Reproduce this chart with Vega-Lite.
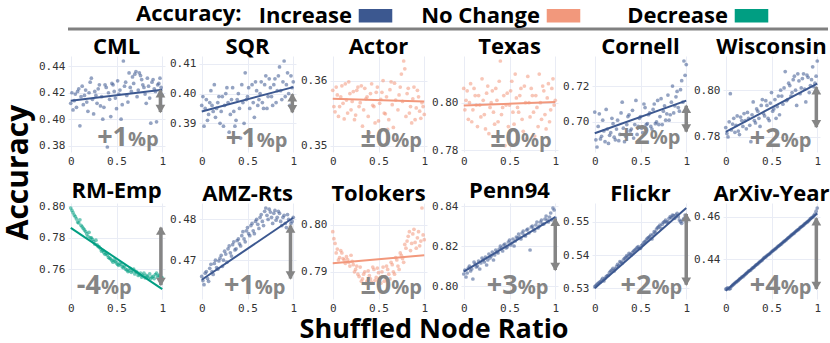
{
"$schema": "https://vega.github.io/schema/vega-lite/v6.json",
"background": "white",
"padding": {"left": 3, "top": 2, "right": 0, "bottom": 0},
"title": {"text": "Accuracy", "orient": "left", "anchor": "middle", "fontSize": 30, "font": "Open Sans", "fontWeight": "bold", "color": "black", "offset": 5},
"config": {
  "view": {"stroke": null},
  "font": "Open Sans",
  "axis": {"labelFont": "DejaVu Sans Mono", "labelFontSize": 11, "labelColor": "#333333", "ticks": false, "domain": false, "gridColor": "#e9ecf5", "gridWidth": 1, "title": null, "labelPadding": 3}
},
"bounds": "flush",
"spacing": 27,
"vconcat": [
  {
    "data": {"values": [{}]},
    "width": 760, "height": 1,
    "mark": {"type": "rule", "color": "#808080", "strokeWidth": 3},
    "encoding": {"y": {"datum": 0, "type": "quantitative", "scale": {"domain": [0, 1]}, "axis": null}}
  },
  {
    "data": {"values": [
{"p":"CML","x":0,"y":0.412},{"p":"CML","x":0.025,"y":0.407},{"p":"CML","x":0.05,"y":0.419},{"p":"CML","x":0.075,"y":0.421},{"p":"CML","x":0.1,"y":0.395},{"p":"CML","x":0.125,"y":0.425},{"p":"CML","x":0.15,"y":0.418},{"p":"CML","x":0.175,"y":0.413},{"p":"CML","x":0.2,"y":0.420},{"p":"CML","x":0.225,"y":0.431},{"p":"CML","x":0.25,"y":0.404},{"p":"CML","x":0.275,"y":0.418},{"p":"CML","x":0.3,"y":0.423},{"p":"CML","x":0.325,"y":0.410},{"p":"CML","x":0.35,"y":0.400},{"p":"CML","x":0.375,"y":0.426},{"p":"CML","x":0.4,"y":0.379},{"p":"CML","x":0.425,"y":0.415},{"p":"CML","x":0.45,"y":0.427},{"p":"CML","x":0.475,"y":0.421},{"p":"CML","x":0.5,"y":0.408},{"p":"CML","x":0.525,"y":0.419},{"p":"CML","x":0.55,"y":0.400},{"p":"CML","x":0.575,"y":0.444},{"p":"CML","x":0.6,"y":0.428},{"p":"CML","x":0.625,"y":0.413},{"p":"CML","x":0.65,"y":0.424},{"p":"CML","x":0.675,"y":0.432},{"p":"CML","x":0.7,"y":0.434},{"p":"CML","x":0.725,"y":0.417},{"p":"CML","x":0.75,"y":0.435},{"p":"CML","x":0.775,"y":0.430},{"p":"CML","x":0.8,"y":0.424},{"p":"CML","x":0.825,"y":0.412},{"p":"CML","x":0.85,"y":0.425},{"p":"CML","x":0.875,"y":0.397},{"p":"CML","x":0.9,"y":0.430},{"p":"CML","x":0.925,"y":0.421},{"p":"CML","x":0.95,"y":0.426},{"p":"CML","x":0.975,"y":0.431},{"p":"CML","x":1,"y":0.418},
{"p":"CML","x":0.0125,"y":0.420},{"p":"CML","x":0.0375,"y":0.414},{"p":"CML","x":0.0625,"y":0.409},{"p":"CML","x":0.0875,"y":0.423},{"p":"CML","x":0.1125,"y":0.417},{"p":"CML","x":0.1375,"y":0.411},{"p":"CML","x":0.1625,"y":0.422},{"p":"CML","x":0.1875,"y":0.406},{"p":"CML","x":0.2125,"y":0.428},{"p":"CML","x":0.2375,"y":0.415},{"p":"CML","x":0.2625,"y":0.421},{"p":"CML","x":0.2875,"y":0.412},{"p":"CML","x":0.3125,"y":0.426},{"p":"CML","x":0.3375,"y":0.417},{"p":"CML","x":0.3625,"y":0.409},{"p":"CML","x":0.3875,"y":0.424},{"p":"CML","x":0.4125,"y":0.420},{"p":"CML","x":0.4375,"y":0.402},{"p":"CML","x":0.4625,"y":0.426},{"p":"CML","x":0.4875,"y":0.416},{"p":"CML","x":0.5125,"y":0.429},{"p":"CML","x":0.5375,"y":0.422},{"p":"CML","x":0.5625,"y":0.411},{"p":"CML","x":0.5875,"y":0.425},{"p":"CML","x":0.6125,"y":0.418},{"p":"CML","x":0.6375,"y":0.435},{"p":"CML","x":0.6625,"y":0.421},{"p":"CML","x":0.6875,"y":0.427},{"p":"CML","x":0.7125,"y":0.436},{"p":"CML","x":0.7375,"y":0.422},{"p":"CML","x":0.7625,"y":0.433},{"p":"CML","x":0.7875,"y":0.426},{"p":"CML","x":0.8125,"y":0.419},{"p":"CML","x":0.8375,"y":0.431},{"p":"CML","x":0.8625,"y":0.416},{"p":"CML","x":0.8875,"y":0.428},{"p":"CML","x":0.9125,"y":0.423},{"p":"CML","x":0.9375,"y":0.398},{"p":"CML","x":0.9625,"y":0.427},{"p":"CML","x":0.9875,"y":0.424},
{"p":"SQR","x":0,"y":0.396},{"p":"SQR","x":0.025,"y":0.389},{"p":"SQR","x":0.05,"y":0.398},{"p":"SQR","x":0.075,"y":0.393},{"p":"SQR","x":0.1,"y":0.401},{"p":"SQR","x":0.125,"y":0.394},{"p":"SQR","x":0.15,"y":0.392},{"p":"SQR","x":0.175,"y":0.397},{"p":"SQR","x":0.2,"y":0.390},{"p":"SQR","x":0.225,"y":0.399},{"p":"SQR","x":0.25,"y":0.396},{"p":"SQR","x":0.275,"y":0.402},{"p":"SQR","x":0.3,"y":0.387},{"p":"SQR","x":0.325,"y":0.398},{"p":"SQR","x":0.35,"y":0.394},{"p":"SQR","x":0.375,"y":0.391},{"p":"SQR","x":0.4,"y":0.400},{"p":"SQR","x":0.425,"y":0.385},{"p":"SQR","x":0.45,"y":0.397},{"p":"SQR","x":0.475,"y":0.407},{"p":"SQR","x":0.5,"y":0.399},{"p":"SQR","x":0.525,"y":0.395},{"p":"SQR","x":0.55,"y":0.403},{"p":"SQR","x":0.575,"y":0.392},{"p":"SQR","x":0.6,"y":0.401},{"p":"SQR","x":0.625,"y":0.398},{"p":"SQR","x":0.65,"y":0.404},{"p":"SQR","x":0.675,"y":0.395},{"p":"SQR","x":0.7,"y":0.406},{"p":"SQR","x":0.725,"y":0.399},{"p":"SQR","x":0.75,"y":0.402},{"p":"SQR","x":0.775,"y":0.396},{"p":"SQR","x":0.8,"y":0.405},{"p":"SQR","x":0.825,"y":0.401},{"p":"SQR","x":0.85,"y":0.409},{"p":"SQR","x":0.875,"y":0.398},{"p":"SQR","x":0.9,"y":0.411},{"p":"SQR","x":0.925,"y":0.403},{"p":"SQR","x":0.95,"y":0.400},{"p":"SQR","x":0.975,"y":0.406},{"p":"SQR","x":1,"y":0.404},
{"p":"SQR","x":0.0125,"y":0.399},{"p":"SQR","x":0.0375,"y":0.395},{"p":"SQR","x":0.0625,"y":0.391},{"p":"SQR","x":0.0875,"y":0.397},{"p":"SQR","x":0.1125,"y":0.396},{"p":"SQR","x":0.1375,"y":0.403},{"p":"SQR","x":0.1625,"y":0.395},{"p":"SQR","x":0.1875,"y":0.399},{"p":"SQR","x":0.2125,"y":0.394},{"p":"SQR","x":0.2375,"y":0.389},{"p":"SQR","x":0.2625,"y":0.400},{"p":"SQR","x":0.2875,"y":0.397},{"p":"SQR","x":0.3125,"y":0.393},{"p":"SQR","x":0.3375,"y":0.402},{"p":"SQR","x":0.3625,"y":0.389},{"p":"SQR","x":0.3875,"y":0.398},{"p":"SQR","x":0.4125,"y":0.395},{"p":"SQR","x":0.4375,"y":0.403},{"p":"SQR","x":0.4625,"y":0.390},{"p":"SQR","x":0.4875,"y":0.398},{"p":"SQR","x":0.5125,"y":0.402},{"p":"SQR","x":0.5375,"y":0.383},{"p":"SQR","x":0.5625,"y":0.397},{"p":"SQR","x":0.5875,"y":0.404},{"p":"SQR","x":0.6125,"y":0.396},{"p":"SQR","x":0.6375,"y":0.400},{"p":"SQR","x":0.6625,"y":0.397},{"p":"SQR","x":0.6875,"y":0.403},{"p":"SQR","x":0.7125,"y":0.395},{"p":"SQR","x":0.7375,"y":0.405},{"p":"SQR","x":0.7625,"y":0.399},{"p":"SQR","x":0.7875,"y":0.403},{"p":"SQR","x":0.8125,"y":0.397},{"p":"SQR","x":0.8375,"y":0.406},{"p":"SQR","x":0.8625,"y":0.401},{"p":"SQR","x":0.8875,"y":0.404},{"p":"SQR","x":0.9125,"y":0.399},{"p":"SQR","x":0.9375,"y":0.407},{"p":"SQR","x":0.9625,"y":0.396},{"p":"SQR","x":0.9875,"y":0.402},
{"p":"Actor","x":0,"y":0.3585},{"p":"Actor","x":0.025,"y":0.3552},{"p":"Actor","x":0.05,"y":0.3578},{"p":"Actor","x":0.075,"y":0.3560},{"p":"Actor","x":0.1,"y":0.3592},{"p":"Actor","x":0.125,"y":0.3541},{"p":"Actor","x":0.15,"y":0.3570},{"p":"Actor","x":0.175,"y":0.3598},{"p":"Actor","x":0.2,"y":0.3555},{"p":"Actor","x":0.225,"y":0.3583},{"p":"Actor","x":0.25,"y":0.3547},{"p":"Actor","x":0.275,"y":0.3590},{"p":"Actor","x":0.3,"y":0.3566},{"p":"Actor","x":0.325,"y":0.3530},{"p":"Actor","x":0.35,"y":0.3588},{"p":"Actor","x":0.375,"y":0.3575},{"p":"Actor","x":0.4,"y":0.3520},{"p":"Actor","x":0.425,"y":0.3595},{"p":"Actor","x":0.45,"y":0.3560},{"p":"Actor","x":0.475,"y":0.3582},{"p":"Actor","x":0.5,"y":0.3538},{"p":"Actor","x":0.525,"y":0.3571},{"p":"Actor","x":0.55,"y":0.3600},{"p":"Actor","x":0.575,"y":0.3549},{"p":"Actor","x":0.6,"y":0.3525},{"p":"Actor","x":0.625,"y":0.3586},{"p":"Actor","x":0.65,"y":0.3563},{"p":"Actor","x":0.675,"y":0.3596},{"p":"Actor","x":0.7,"y":0.3510},{"p":"Actor","x":0.725,"y":0.3578},{"p":"Actor","x":0.75,"y":0.3610},{"p":"Actor","x":0.775,"y":0.3630},{"p":"Actor","x":0.8,"y":0.3545},{"p":"Actor","x":0.825,"y":0.3588},{"p":"Actor","x":0.85,"y":0.3560},{"p":"Actor","x":0.875,"y":0.3572},{"p":"Actor","x":0.9,"y":0.3540},{"p":"Actor","x":0.925,"y":0.3585},{"p":"Actor","x":0.95,"y":0.3553},{"p":"Actor","x":0.975,"y":0.3566},{"p":"Actor","x":1,"y":0.3548},
{"p":"Actor","x":0.0125,"y":0.3560},{"p":"Actor","x":0.0375,"y":0.3590},{"p":"Actor","x":0.0625,"y":0.3545},{"p":"Actor","x":0.0875,"y":0.3575},{"p":"Actor","x":0.1125,"y":0.3565},{"p":"Actor","x":0.1375,"y":0.3595},{"p":"Actor","x":0.1625,"y":0.3550},{"p":"Actor","x":0.1875,"y":0.3580},{"p":"Actor","x":0.2125,"y":0.3568},{"p":"Actor","x":0.2375,"y":0.3540},{"p":"Actor","x":0.2625,"y":0.3585},{"p":"Actor","x":0.2875,"y":0.3560},{"p":"Actor","x":0.3125,"y":0.3592},{"p":"Actor","x":0.3375,"y":0.3555},{"p":"Actor","x":0.3625,"y":0.3572},{"p":"Actor","x":0.3875,"y":0.3545},{"p":"Actor","x":0.4125,"y":0.3580},{"p":"Actor","x":0.4375,"y":0.3562},{"p":"Actor","x":0.4625,"y":0.3535},{"p":"Actor","x":0.4875,"y":0.3590},{"p":"Actor","x":0.5125,"y":0.3565},{"p":"Actor","x":0.5375,"y":0.3582},{"p":"Actor","x":0.5625,"y":0.3550},{"p":"Actor","x":0.5875,"y":0.3575},{"p":"Actor","x":0.6125,"y":0.3540},{"p":"Actor","x":0.6375,"y":0.3598},{"p":"Actor","x":0.6625,"y":0.3528},{"p":"Actor","x":0.6875,"y":0.3570},{"p":"Actor","x":0.7125,"y":0.3555},{"p":"Actor","x":0.7375,"y":0.3590},{"p":"Actor","x":0.7625,"y":0.3568},{"p":"Actor","x":0.7875,"y":0.3618},{"p":"Actor","x":0.8125,"y":0.3580},{"p":"Actor","x":0.8375,"y":0.3550},{"p":"Actor","x":0.8625,"y":0.3535},{"p":"Actor","x":0.8875,"y":0.3590},{"p":"Actor","x":0.9125,"y":0.3558},{"p":"Actor","x":0.9375,"y":0.3575},{"p":"Actor","x":0.9625,"y":0.3542},{"p":"Actor","x":0.9875,"y":0.3560},
{"p":"Texas","x":0,"y":0.806},{"p":"Texas","x":0.025,"y":0.801},{"p":"Texas","x":0.05,"y":0.793},{"p":"Texas","x":0.075,"y":0.808},{"p":"Texas","x":0.1,"y":0.797},{"p":"Texas","x":0.125,"y":0.803},{"p":"Texas","x":0.15,"y":0.790},{"p":"Texas","x":0.175,"y":0.799},{"p":"Texas","x":0.2,"y":0.810},{"p":"Texas","x":0.225,"y":0.795},{"p":"Texas","x":0.25,"y":0.804},{"p":"Texas","x":0.275,"y":0.787},{"p":"Texas","x":0.3,"y":0.800},{"p":"Texas","x":0.325,"y":0.796},{"p":"Texas","x":0.35,"y":0.806},{"p":"Texas","x":0.375,"y":0.792},{"p":"Texas","x":0.4,"y":0.8175},{"p":"Texas","x":0.425,"y":0.798},{"p":"Texas","x":0.45,"y":0.782},{"p":"Texas","x":0.475,"y":0.804},{"p":"Texas","x":0.5,"y":0.799},{"p":"Texas","x":0.525,"y":0.809},{"p":"Texas","x":0.55,"y":0.791},{"p":"Texas","x":0.575,"y":0.802},{"p":"Texas","x":0.6,"y":0.796},{"p":"Texas","x":0.625,"y":0.806},{"p":"Texas","x":0.65,"y":0.788},{"p":"Texas","x":0.675,"y":0.800},{"p":"Texas","x":0.7,"y":0.811},{"p":"Texas","x":0.725,"y":0.794},{"p":"Texas","x":0.75,"y":0.803},{"p":"Texas","x":0.775,"y":0.786},{"p":"Texas","x":0.8,"y":0.798},{"p":"Texas","x":0.825,"y":0.812},{"p":"Texas","x":0.85,"y":0.793},{"p":"Texas","x":0.875,"y":0.805},{"p":"Texas","x":0.9,"y":0.789},{"p":"Texas","x":0.925,"y":0.808},{"p":"Texas","x":0.95,"y":0.797},{"p":"Texas","x":0.975,"y":0.810},{"p":"Texas","x":1,"y":0.801},
{"p":"Texas","x":0.0125,"y":0.797},{"p":"Texas","x":0.0375,"y":0.805},{"p":"Texas","x":0.0625,"y":0.800},{"p":"Texas","x":0.0875,"y":0.792},{"p":"Texas","x":0.1125,"y":0.806},{"p":"Texas","x":0.1375,"y":0.799},{"p":"Texas","x":0.1625,"y":0.803},{"p":"Texas","x":0.1875,"y":0.794},{"p":"Texas","x":0.2125,"y":0.801},{"p":"Texas","x":0.2375,"y":0.789},{"p":"Texas","x":0.2625,"y":0.807},{"p":"Texas","x":0.2875,"y":0.798},{"p":"Texas","x":0.3125,"y":0.805},{"p":"Texas","x":0.3375,"y":0.791},{"p":"Texas","x":0.3625,"y":0.801},{"p":"Texas","x":0.3875,"y":0.809},{"p":"Texas","x":0.4125,"y":0.795},{"p":"Texas","x":0.4375,"y":0.803},{"p":"Texas","x":0.4625,"y":0.799},{"p":"Texas","x":0.4875,"y":0.790},{"p":"Texas","x":0.5125,"y":0.805},{"p":"Texas","x":0.5375,"y":0.796},{"p":"Texas","x":0.5625,"y":0.812},{"p":"Texas","x":0.5875,"y":0.798},{"p":"Texas","x":0.6125,"y":0.803},{"p":"Texas","x":0.6375,"y":0.793},{"p":"Texas","x":0.6625,"y":0.807},{"p":"Texas","x":0.6875,"y":0.785},{"p":"Texas","x":0.7125,"y":0.800},{"p":"Texas","x":0.7375,"y":0.806},{"p":"Texas","x":0.7625,"y":0.796},{"p":"Texas","x":0.7875,"y":0.803},{"p":"Texas","x":0.8125,"y":0.790},{"p":"Texas","x":0.8375,"y":0.800},{"p":"Texas","x":0.8625,"y":0.807},{"p":"Texas","x":0.8875,"y":0.795},{"p":"Texas","x":0.9125,"y":0.802},{"p":"Texas","x":0.9375,"y":0.792},{"p":"Texas","x":0.9625,"y":0.806},{"p":"Texas","x":0.9875,"y":0.799},
{"p":"Cornell","x":0,"y":0.7055},{"p":"Cornell","x":0.025,"y":0.6860},{"p":"Cornell","x":0.05,"y":0.7045},{"p":"Cornell","x":0.075,"y":0.6920},{"p":"Cornell","x":0.1,"y":0.6950},{"p":"Cornell","x":0.125,"y":0.7070},{"p":"Cornell","x":0.15,"y":0.6880},{"p":"Cornell","x":0.175,"y":0.6940},{"p":"Cornell","x":0.2,"y":0.6990},{"p":"Cornell","x":0.225,"y":0.6900},{"p":"Cornell","x":0.25,"y":0.7010},{"p":"Cornell","x":0.275,"y":0.6930},{"p":"Cornell","x":0.3,"y":0.7110},{"p":"Cornell","x":0.325,"y":0.6890},{"p":"Cornell","x":0.35,"y":0.6985},{"p":"Cornell","x":0.375,"y":0.7040},{"p":"Cornell","x":0.4,"y":0.6960},{"p":"Cornell","x":0.425,"y":0.6910},{"p":"Cornell","x":0.45,"y":0.7120},{"p":"Cornell","x":0.475,"y":0.6975},{"p":"Cornell","x":0.5,"y":0.7030},{"p":"Cornell","x":0.525,"y":0.6940},{"p":"Cornell","x":0.55,"y":0.7080},{"p":"Cornell","x":0.575,"y":0.6990},{"p":"Cornell","x":0.6,"y":0.7050},{"p":"Cornell","x":0.625,"y":0.6960},{"p":"Cornell","x":0.65,"y":0.7100},{"p":"Cornell","x":0.675,"y":0.7000},{"p":"Cornell","x":0.7,"y":0.6985},{"p":"Cornell","x":0.725,"y":0.7130},{"p":"Cornell","x":0.75,"y":0.7060},{"p":"Cornell","x":0.775,"y":0.7010},{"p":"Cornell","x":0.8,"y":0.7150},{"p":"Cornell","x":0.825,"y":0.7040},{"p":"Cornell","x":0.85,"y":0.7200},{"p":"Cornell","x":0.875,"y":0.7090},{"p":"Cornell","x":0.9,"y":0.7170},{"p":"Cornell","x":0.925,"y":0.7060},{"p":"Cornell","x":0.95,"y":0.7230},{"p":"Cornell","x":0.975,"y":0.7340},{"p":"Cornell","x":1,"y":0.7320},
{"p":"Cornell","x":0.0125,"y":0.6900},{"p":"Cornell","x":0.0375,"y":0.6975},{"p":"Cornell","x":0.0625,"y":0.6905},{"p":"Cornell","x":0.0875,"y":0.7010},{"p":"Cornell","x":0.1125,"y":0.6890},{"p":"Cornell","x":0.1375,"y":0.6960},{"p":"Cornell","x":0.1625,"y":0.6925},{"p":"Cornell","x":0.1875,"y":0.7020},{"p":"Cornell","x":0.2125,"y":0.6915},{"p":"Cornell","x":0.2375,"y":0.6960},{"p":"Cornell","x":0.2625,"y":0.6895},{"p":"Cornell","x":0.2875,"y":0.7050},{"p":"Cornell","x":0.3125,"y":0.6965},{"p":"Cornell","x":0.3375,"y":0.6920},{"p":"Cornell","x":0.3625,"y":0.7030},{"p":"Cornell","x":0.3875,"y":0.6950},{"p":"Cornell","x":0.4125,"y":0.7065},{"p":"Cornell","x":0.4375,"y":0.6985},{"p":"Cornell","x":0.4625,"y":0.6930},{"p":"Cornell","x":0.4875,"y":0.7020},{"p":"Cornell","x":0.5125,"y":0.6965},{"p":"Cornell","x":0.5375,"y":0.7100},{"p":"Cornell","x":0.5625,"y":0.6985},{"p":"Cornell","x":0.5875,"y":0.7040},{"p":"Cornell","x":0.6125,"y":0.6975},{"p":"Cornell","x":0.6375,"y":0.7070},{"p":"Cornell","x":0.6625,"y":0.6990},{"p":"Cornell","x":0.6875,"y":0.7120},{"p":"Cornell","x":0.7125,"y":0.7030},{"p":"Cornell","x":0.7375,"y":0.6985},{"p":"Cornell","x":0.7625,"y":0.7090},{"p":"Cornell","x":0.7875,"y":0.7045},{"p":"Cornell","x":0.8125,"y":0.7010},{"p":"Cornell","x":0.8375,"y":0.7110},{"p":"Cornell","x":0.8625,"y":0.7050},{"p":"Cornell","x":0.8875,"y":0.7140},{"p":"Cornell","x":0.9125,"y":0.7080},{"p":"Cornell","x":0.9375,"y":0.7180},{"p":"Cornell","x":0.9625,"y":0.7110},{"p":"Cornell","x":0.9875,"y":0.7260},
{"p":"Wisconsin","x":0,"y":0.7840},{"p":"Wisconsin","x":0.025,"y":0.7800},{"p":"Wisconsin","x":0.05,"y":0.7985},{"p":"Wisconsin","x":0.075,"y":0.7855},{"p":"Wisconsin","x":0.1,"y":0.7820},{"p":"Wisconsin","x":0.125,"y":0.7890},{"p":"Wisconsin","x":0.15,"y":0.7810},{"p":"Wisconsin","x":0.175,"y":0.7870},{"p":"Wisconsin","x":0.2,"y":0.7900},{"p":"Wisconsin","x":0.225,"y":0.7835},{"p":"Wisconsin","x":0.25,"y":0.7880},{"p":"Wisconsin","x":0.275,"y":0.7780},{"p":"Wisconsin","x":0.3,"y":0.7950},{"p":"Wisconsin","x":0.325,"y":0.7860},{"p":"Wisconsin","x":0.35,"y":0.7910},{"p":"Wisconsin","x":0.375,"y":0.7845},{"p":"Wisconsin","x":0.4,"y":0.7960},{"p":"Wisconsin","x":0.425,"y":0.7890},{"p":"Wisconsin","x":0.45,"y":0.7935},{"p":"Wisconsin","x":0.475,"y":0.7870},{"p":"Wisconsin","x":0.5,"y":0.7990},{"p":"Wisconsin","x":0.525,"y":0.7920},{"p":"Wisconsin","x":0.55,"y":0.7880},{"p":"Wisconsin","x":0.575,"y":0.7975},{"p":"Wisconsin","x":0.6,"y":0.8000},{"p":"Wisconsin","x":0.625,"y":0.7940},{"p":"Wisconsin","x":0.65,"y":0.8080},{"p":"Wisconsin","x":0.675,"y":0.7960},{"p":"Wisconsin","x":0.7,"y":0.8020},{"p":"Wisconsin","x":0.725,"y":0.7990},{"p":"Wisconsin","x":0.75,"y":0.8060},{"p":"Wisconsin","x":0.775,"y":0.7935},{"p":"Wisconsin","x":0.8,"y":0.8040},{"p":"Wisconsin","x":0.825,"y":0.8010},{"p":"Wisconsin","x":0.85,"y":0.8070},{"p":"Wisconsin","x":0.875,"y":0.7950},{"p":"Wisconsin","x":0.9,"y":0.8055},{"p":"Wisconsin","x":0.925,"y":0.8020},{"p":"Wisconsin","x":0.95,"y":0.8100},{"p":"Wisconsin","x":0.975,"y":0.8030},{"p":"Wisconsin","x":1,"y":0.8125},
{"p":"Wisconsin","x":0.0125,"y":0.7815},{"p":"Wisconsin","x":0.0375,"y":0.7865},{"p":"Wisconsin","x":0.0625,"y":0.7830},{"p":"Wisconsin","x":0.0875,"y":0.7880},{"p":"Wisconsin","x":0.1125,"y":0.7850},{"p":"Wisconsin","x":0.1375,"y":0.7825},{"p":"Wisconsin","x":0.1625,"y":0.7885},{"p":"Wisconsin","x":0.1875,"y":0.7845},{"p":"Wisconsin","x":0.2125,"y":0.7870},{"p":"Wisconsin","x":0.2375,"y":0.7905},{"p":"Wisconsin","x":0.2625,"y":0.7850},{"p":"Wisconsin","x":0.2875,"y":0.7895},{"p":"Wisconsin","x":0.3125,"y":0.7870},{"p":"Wisconsin","x":0.3375,"y":0.7920},{"p":"Wisconsin","x":0.3625,"y":0.7880},{"p":"Wisconsin","x":0.3875,"y":0.7935},{"p":"Wisconsin","x":0.4125,"y":0.7900},{"p":"Wisconsin","x":0.4375,"y":0.7955},{"p":"Wisconsin","x":0.4625,"y":0.7880},{"p":"Wisconsin","x":0.4875,"y":0.7945},{"p":"Wisconsin","x":0.5125,"y":0.7910},{"p":"Wisconsin","x":0.5375,"y":0.7960},{"p":"Wisconsin","x":0.5625,"y":0.7930},{"p":"Wisconsin","x":0.5875,"y":0.7895},{"p":"Wisconsin","x":0.6125,"y":0.7975},{"p":"Wisconsin","x":0.6375,"y":0.8010},{"p":"Wisconsin","x":0.6625,"y":0.7955},{"p":"Wisconsin","x":0.6875,"y":0.8030},{"p":"Wisconsin","x":0.7125,"y":0.7975},{"p":"Wisconsin","x":0.7375,"y":0.8045},{"p":"Wisconsin","x":0.7625,"y":0.8000},{"p":"Wisconsin","x":0.7875,"y":0.8070},{"p":"Wisconsin","x":0.8125,"y":0.7985},{"p":"Wisconsin","x":0.8375,"y":0.8050},{"p":"Wisconsin","x":0.8625,"y":0.8005},{"p":"Wisconsin","x":0.8875,"y":0.8065},{"p":"Wisconsin","x":0.9125,"y":0.7990},{"p":"Wisconsin","x":0.9375,"y":0.8045},{"p":"Wisconsin","x":0.9625,"y":0.8015},{"p":"Wisconsin","x":0.9875,"y":0.8060},
{"p":"RM-Emp","x":0,"y":0.7990},{"p":"RM-Emp","x":0.025,"y":0.7960},{"p":"RM-Emp","x":0.05,"y":0.7935},{"p":"RM-Emp","x":0.075,"y":0.7900},{"p":"RM-Emp","x":0.1,"y":0.7915},{"p":"RM-Emp","x":0.125,"y":0.7870},{"p":"RM-Emp","x":0.15,"y":0.7850},{"p":"RM-Emp","x":0.175,"y":0.7825},{"p":"RM-Emp","x":0.2,"y":0.7835},{"p":"RM-Emp","x":0.225,"y":0.7800},{"p":"RM-Emp","x":0.25,"y":0.7775},{"p":"RM-Emp","x":0.275,"y":0.7785},{"p":"RM-Emp","x":0.3,"y":0.7745},{"p":"RM-Emp","x":0.325,"y":0.7730},{"p":"RM-Emp","x":0.35,"y":0.7720},{"p":"RM-Emp","x":0.375,"y":0.7695},{"p":"RM-Emp","x":0.4,"y":0.7690},{"p":"RM-Emp","x":0.425,"y":0.7670},{"p":"RM-Emp","x":0.45,"y":0.7655},{"p":"RM-Emp","x":0.475,"y":0.7660},{"p":"RM-Emp","x":0.5,"y":0.7640},{"p":"RM-Emp","x":0.525,"y":0.7625},{"p":"RM-Emp","x":0.55,"y":0.7630},{"p":"RM-Emp","x":0.575,"y":0.7610},{"p":"RM-Emp","x":0.6,"y":0.7600},{"p":"RM-Emp","x":0.625,"y":0.7585},{"p":"RM-Emp","x":0.65,"y":0.7605},{"p":"RM-Emp","x":0.675,"y":0.7590},{"p":"RM-Emp","x":0.7,"y":0.7570},{"p":"RM-Emp","x":0.725,"y":0.7580},{"p":"RM-Emp","x":0.75,"y":0.7565},{"p":"RM-Emp","x":0.775,"y":0.7550},{"p":"RM-Emp","x":0.8,"y":0.7575},{"p":"RM-Emp","x":0.825,"y":0.7560},{"p":"RM-Emp","x":0.85,"y":0.7545},{"p":"RM-Emp","x":0.875,"y":0.7540},{"p":"RM-Emp","x":0.9,"y":0.7555},{"p":"RM-Emp","x":0.925,"y":0.7565},{"p":"RM-Emp","x":0.95,"y":0.7550},{"p":"RM-Emp","x":0.975,"y":0.7560},{"p":"RM-Emp","x":1,"y":0.7545},
{"p":"RM-Emp","x":0.0125,"y":0.7975},{"p":"RM-Emp","x":0.0375,"y":0.7945},{"p":"RM-Emp","x":0.0625,"y":0.7920},{"p":"RM-Emp","x":0.0875,"y":0.7895},{"p":"RM-Emp","x":0.1125,"y":0.7880},{"p":"RM-Emp","x":0.1375,"y":0.7860},{"p":"RM-Emp","x":0.1625,"y":0.7840},{"p":"RM-Emp","x":0.1875,"y":0.7810},{"p":"RM-Emp","x":0.2125,"y":0.7800},{"p":"RM-Emp","x":0.2375,"y":0.7790},{"p":"RM-Emp","x":0.2625,"y":0.7760},{"p":"RM-Emp","x":0.2875,"y":0.7755},{"p":"RM-Emp","x":0.3125,"y":0.7740},{"p":"RM-Emp","x":0.3375,"y":0.7715},{"p":"RM-Emp","x":0.3625,"y":0.7705},{"p":"RM-Emp","x":0.3875,"y":0.7700},{"p":"RM-Emp","x":0.4125,"y":0.7675},{"p":"RM-Emp","x":0.4375,"y":0.7665},{"p":"RM-Emp","x":0.4625,"y":0.7645},{"p":"RM-Emp","x":0.4875,"y":0.7650},{"p":"RM-Emp","x":0.5125,"y":0.7630},{"p":"RM-Emp","x":0.5375,"y":0.7640},{"p":"RM-Emp","x":0.5625,"y":0.7615},{"p":"RM-Emp","x":0.5875,"y":0.7620},{"p":"RM-Emp","x":0.6125,"y":0.7595},{"p":"RM-Emp","x":0.6375,"y":0.7590},{"p":"RM-Emp","x":0.6625,"y":0.7580},{"p":"RM-Emp","x":0.6875,"y":0.7600},{"p":"RM-Emp","x":0.7125,"y":0.7585},{"p":"RM-Emp","x":0.7375,"y":0.7560},{"p":"RM-Emp","x":0.7625,"y":0.7575},{"p":"RM-Emp","x":0.7875,"y":0.7560},{"p":"RM-Emp","x":0.8125,"y":0.7545},{"p":"RM-Emp","x":0.8375,"y":0.7555},{"p":"RM-Emp","x":0.8625,"y":0.7570},{"p":"RM-Emp","x":0.8875,"y":0.7550},{"p":"RM-Emp","x":0.9125,"y":0.7540},{"p":"RM-Emp","x":0.9375,"y":0.7575},{"p":"RM-Emp","x":0.9625,"y":0.7560},{"p":"RM-Emp","x":0.9875,"y":0.7550},
{"p":"AMZ-Rts","x":0,"y":0.4660},{"p":"AMZ-Rts","x":0.025,"y":0.4640},{"p":"AMZ-Rts","x":0.05,"y":0.4672},{"p":"AMZ-Rts","x":0.075,"y":0.4648},{"p":"AMZ-Rts","x":0.1,"y":0.4690},{"p":"AMZ-Rts","x":0.125,"y":0.4665},{"p":"AMZ-Rts","x":0.15,"y":0.4700},{"p":"AMZ-Rts","x":0.175,"y":0.4678},{"p":"AMZ-Rts","x":0.2,"y":0.4705},{"p":"AMZ-Rts","x":0.225,"y":0.4685},{"p":"AMZ-Rts","x":0.25,"y":0.4722},{"p":"AMZ-Rts","x":0.275,"y":0.4695},{"p":"AMZ-Rts","x":0.3,"y":0.4735},{"p":"AMZ-Rts","x":0.325,"y":0.4710},{"p":"AMZ-Rts","x":0.35,"y":0.4745},{"p":"AMZ-Rts","x":0.375,"y":0.4728},{"p":"AMZ-Rts","x":0.4,"y":0.4752},{"p":"AMZ-Rts","x":0.425,"y":0.4735},{"p":"AMZ-Rts","x":0.45,"y":0.4770},{"p":"AMZ-Rts","x":0.475,"y":0.4745},{"p":"AMZ-Rts","x":0.5,"y":0.4780},{"p":"AMZ-Rts","x":0.525,"y":0.4760},{"p":"AMZ-Rts","x":0.55,"y":0.4790},{"p":"AMZ-Rts","x":0.575,"y":0.4765},{"p":"AMZ-Rts","x":0.6,"y":0.4800},{"p":"AMZ-Rts","x":0.625,"y":0.4778},{"p":"AMZ-Rts","x":0.65,"y":0.4812},{"p":"AMZ-Rts","x":0.675,"y":0.4785},{"p":"AMZ-Rts","x":0.7,"y":0.4828},{"p":"AMZ-Rts","x":0.725,"y":0.4800},{"p":"AMZ-Rts","x":0.75,"y":0.4818},{"p":"AMZ-Rts","x":0.775,"y":0.4790},{"p":"AMZ-Rts","x":0.8,"y":0.4822},{"p":"AMZ-Rts","x":0.825,"y":0.4805},{"p":"AMZ-Rts","x":0.85,"y":0.4815},{"p":"AMZ-Rts","x":0.875,"y":0.4785},{"p":"AMZ-Rts","x":0.9,"y":0.4810},{"p":"AMZ-Rts","x":0.925,"y":0.4780},{"p":"AMZ-Rts","x":0.95,"y":0.4800},{"p":"AMZ-Rts","x":0.975,"y":0.4790},{"p":"AMZ-Rts","x":1,"y":0.4805},
{"p":"AMZ-Rts","x":0.0125,"y":0.4650},{"p":"AMZ-Rts","x":0.0375,"y":0.4668},{"p":"AMZ-Rts","x":0.0625,"y":0.4655},{"p":"AMZ-Rts","x":0.0875,"y":0.4680},{"p":"AMZ-Rts","x":0.1125,"y":0.4672},{"p":"AMZ-Rts","x":0.1375,"y":0.4692},{"p":"AMZ-Rts","x":0.1625,"y":0.4682},{"p":"AMZ-Rts","x":0.1875,"y":0.4698},{"p":"AMZ-Rts","x":0.2125,"y":0.4712},{"p":"AMZ-Rts","x":0.2375,"y":0.4700},{"p":"AMZ-Rts","x":0.2625,"y":0.4715},{"p":"AMZ-Rts","x":0.2875,"y":0.4728},{"p":"AMZ-Rts","x":0.3125,"y":0.4718},{"p":"AMZ-Rts","x":0.3375,"y":0.4738},{"p":"AMZ-Rts","x":0.3625,"y":0.4725},{"p":"AMZ-Rts","x":0.3875,"y":0.4748},{"p":"AMZ-Rts","x":0.4125,"y":0.4740},{"p":"AMZ-Rts","x":0.4375,"y":0.4760},{"p":"AMZ-Rts","x":0.4625,"y":0.4752},{"p":"AMZ-Rts","x":0.4875,"y":0.4772},{"p":"AMZ-Rts","x":0.5125,"y":0.4765},{"p":"AMZ-Rts","x":0.5375,"y":0.4785},{"p":"AMZ-Rts","x":0.5625,"y":0.4772},{"p":"AMZ-Rts","x":0.5875,"y":0.4795},{"p":"AMZ-Rts","x":0.6125,"y":0.4788},{"p":"AMZ-Rts","x":0.6375,"y":0.4805},{"p":"AMZ-Rts","x":0.6625,"y":0.4795},{"p":"AMZ-Rts","x":0.6875,"y":0.4820},{"p":"AMZ-Rts","x":0.7125,"y":0.4810},{"p":"AMZ-Rts","x":0.7375,"y":0.4825},{"p":"AMZ-Rts","x":0.7625,"y":0.4805},{"p":"AMZ-Rts","x":0.7875,"y":0.4815},{"p":"AMZ-Rts","x":0.8125,"y":0.4798},{"p":"AMZ-Rts","x":0.8375,"y":0.4820},{"p":"AMZ-Rts","x":0.8625,"y":0.4795},{"p":"AMZ-Rts","x":0.8875,"y":0.4805},{"p":"AMZ-Rts","x":0.9125,"y":0.4790},{"p":"AMZ-Rts","x":0.9375,"y":0.4812},{"p":"AMZ-Rts","x":0.9625,"y":0.4775},{"p":"AMZ-Rts","x":0.9875,"y":0.4795},
{"p":"Tolokers","x":0,"y":0.7985},{"p":"Tolokers","x":0.025,"y":0.7960},{"p":"Tolokers","x":0.05,"y":0.7948},{"p":"Tolokers","x":0.075,"y":0.7930},{"p":"Tolokers","x":0.1,"y":0.7940},{"p":"Tolokers","x":0.125,"y":0.7925},{"p":"Tolokers","x":0.15,"y":0.7932},{"p":"Tolokers","x":0.175,"y":0.7920},{"p":"Tolokers","x":0.2,"y":0.7935},{"p":"Tolokers","x":0.225,"y":0.7915},{"p":"Tolokers","x":0.25,"y":0.7905},{"p":"Tolokers","x":0.275,"y":0.7895},{"p":"Tolokers","x":0.3,"y":0.7910},{"p":"Tolokers","x":0.325,"y":0.7885},{"p":"Tolokers","x":0.35,"y":0.7900},{"p":"Tolokers","x":0.375,"y":0.7880},{"p":"Tolokers","x":0.4,"y":0.7892},{"p":"Tolokers","x":0.425,"y":0.7878},{"p":"Tolokers","x":0.45,"y":0.7905},{"p":"Tolokers","x":0.475,"y":0.7888},{"p":"Tolokers","x":0.5,"y":0.7898},{"p":"Tolokers","x":0.525,"y":0.7876},{"p":"Tolokers","x":0.55,"y":0.7910},{"p":"Tolokers","x":0.575,"y":0.7890},{"p":"Tolokers","x":0.6,"y":0.7905},{"p":"Tolokers","x":0.625,"y":0.7885},{"p":"Tolokers","x":0.65,"y":0.7915},{"p":"Tolokers","x":0.675,"y":0.7895},{"p":"Tolokers","x":0.7,"y":0.7925},{"p":"Tolokers","x":0.725,"y":0.7905},{"p":"Tolokers","x":0.75,"y":0.7935},{"p":"Tolokers","x":0.775,"y":0.7920},{"p":"Tolokers","x":0.8,"y":0.7950},{"p":"Tolokers","x":0.825,"y":0.7975},{"p":"Tolokers","x":0.85,"y":0.7945},{"p":"Tolokers","x":0.875,"y":0.7980},{"p":"Tolokers","x":0.9,"y":0.7962},{"p":"Tolokers","x":0.925,"y":0.7972},{"p":"Tolokers","x":0.95,"y":0.7955},{"p":"Tolokers","x":0.975,"y":0.8035},{"p":"Tolokers","x":1,"y":0.7968},
{"p":"Tolokers","x":0.0125,"y":0.7970},{"p":"Tolokers","x":0.0375,"y":0.7940},{"p":"Tolokers","x":0.0625,"y":0.7925},{"p":"Tolokers","x":0.0875,"y":0.7945},{"p":"Tolokers","x":0.1125,"y":0.7928},{"p":"Tolokers","x":0.1375,"y":0.7918},{"p":"Tolokers","x":0.1625,"y":0.7926},{"p":"Tolokers","x":0.1875,"y":0.7912},{"p":"Tolokers","x":0.2125,"y":0.7922},{"p":"Tolokers","x":0.2375,"y":0.7900},{"p":"Tolokers","x":0.2625,"y":0.7912},{"p":"Tolokers","x":0.2875,"y":0.7890},{"p":"Tolokers","x":0.3125,"y":0.7880},{"p":"Tolokers","x":0.3375,"y":0.7895},{"p":"Tolokers","x":0.3625,"y":0.7875},{"p":"Tolokers","x":0.3875,"y":0.7902},{"p":"Tolokers","x":0.4125,"y":0.7885},{"p":"Tolokers","x":0.4375,"y":0.7910},{"p":"Tolokers","x":0.4625,"y":0.7882},{"p":"Tolokers","x":0.4875,"y":0.7908},{"p":"Tolokers","x":0.5125,"y":0.7885},{"p":"Tolokers","x":0.5375,"y":0.7900},{"p":"Tolokers","x":0.5625,"y":0.7880},{"p":"Tolokers","x":0.5875,"y":0.7912},{"p":"Tolokers","x":0.6125,"y":0.7895},{"p":"Tolokers","x":0.6375,"y":0.7920},{"p":"Tolokers","x":0.6625,"y":0.7900},{"p":"Tolokers","x":0.6875,"y":0.7930},{"p":"Tolokers","x":0.7125,"y":0.7912},{"p":"Tolokers","x":0.7375,"y":0.7940},{"p":"Tolokers","x":0.7625,"y":0.7928},{"p":"Tolokers","x":0.7875,"y":0.7958},{"p":"Tolokers","x":0.8125,"y":0.7965},{"p":"Tolokers","x":0.8375,"y":0.7985},{"p":"Tolokers","x":0.8625,"y":0.7960},{"p":"Tolokers","x":0.8875,"y":0.7990},{"p":"Tolokers","x":0.9125,"y":0.7950},{"p":"Tolokers","x":0.9375,"y":0.7985},{"p":"Tolokers","x":0.9625,"y":0.7965},{"p":"Tolokers","x":0.9875,"y":0.7978},
{"p":"Penn94","x":0,"y":0.8060},{"p":"Penn94","x":0.025,"y":0.8045},{"p":"Penn94","x":0.05,"y":0.8090},{"p":"Penn94","x":0.075,"y":0.8075},{"p":"Penn94","x":0.1,"y":0.8035},{"p":"Penn94","x":0.125,"y":0.8110},{"p":"Penn94","x":0.15,"y":0.8100},{"p":"Penn94","x":0.175,"y":0.8085},{"p":"Penn94","x":0.2,"y":0.8140},{"p":"Penn94","x":0.225,"y":0.8120},{"p":"Penn94","x":0.25,"y":0.8105},{"p":"Penn94","x":0.275,"y":0.8160},{"p":"Penn94","x":0.3,"y":0.8150},{"p":"Penn94","x":0.325,"y":0.8130},{"p":"Penn94","x":0.35,"y":0.8180},{"p":"Penn94","x":0.375,"y":0.8165},{"p":"Penn94","x":0.4,"y":0.8200},{"p":"Penn94","x":0.425,"y":0.8175},{"p":"Penn94","x":0.45,"y":0.8210},{"p":"Penn94","x":0.475,"y":0.8195},{"p":"Penn94","x":0.5,"y":0.8230},{"p":"Penn94","x":0.525,"y":0.8215},{"p":"Penn94","x":0.55,"y":0.8200},{"p":"Penn94","x":0.575,"y":0.8245},{"p":"Penn94","x":0.6,"y":0.8260},{"p":"Penn94","x":0.625,"y":0.8235},{"p":"Penn94","x":0.65,"y":0.8275},{"p":"Penn94","x":0.675,"y":0.8250},{"p":"Penn94","x":0.7,"y":0.8285},{"p":"Penn94","x":0.725,"y":0.8180},{"p":"Penn94","x":0.75,"y":0.8300},{"p":"Penn94","x":0.775,"y":0.8275},{"p":"Penn94","x":0.8,"y":0.8320},{"p":"Penn94","x":0.825,"y":0.8300},{"p":"Penn94","x":0.85,"y":0.8330},{"p":"Penn94","x":0.875,"y":0.8310},{"p":"Penn94","x":0.9,"y":0.8350},{"p":"Penn94","x":0.925,"y":0.8320},{"p":"Penn94","x":0.95,"y":0.8365},{"p":"Penn94","x":0.975,"y":0.8390},{"p":"Penn94","x":1,"y":0.8340},
{"p":"Penn94","x":0.0125,"y":0.8080},{"p":"Penn94","x":0.0375,"y":0.8065},{"p":"Penn94","x":0.0625,"y":0.8100},{"p":"Penn94","x":0.0875,"y":0.8085},{"p":"Penn94","x":0.1125,"y":0.8120},{"p":"Penn94","x":0.1375,"y":0.8095},{"p":"Penn94","x":0.1625,"y":0.8125},{"p":"Penn94","x":0.1875,"y":0.8115},{"p":"Penn94","x":0.2125,"y":0.8130},{"p":"Penn94","x":0.2375,"y":0.8145},{"p":"Penn94","x":0.2625,"y":0.8130},{"p":"Penn94","x":0.2875,"y":0.8140},{"p":"Penn94","x":0.3125,"y":0.8170},{"p":"Penn94","x":0.3375,"y":0.8155},{"p":"Penn94","x":0.3625,"y":0.8170},{"p":"Penn94","x":0.3875,"y":0.8185},{"p":"Penn94","x":0.4125,"y":0.8190},{"p":"Penn94","x":0.4375,"y":0.8205},{"p":"Penn94","x":0.4625,"y":0.8190},{"p":"Penn94","x":0.4875,"y":0.8220},{"p":"Penn94","x":0.5125,"y":0.8205},{"p":"Penn94","x":0.5375,"y":0.8235},{"p":"Penn94","x":0.5625,"y":0.8225},{"p":"Penn94","x":0.5875,"y":0.8240},{"p":"Penn94","x":0.6125,"y":0.8245},{"p":"Penn94","x":0.6375,"y":0.8265},{"p":"Penn94","x":0.6625,"y":0.8255},{"p":"Penn94","x":0.6875,"y":0.8280},{"p":"Penn94","x":0.7125,"y":0.8265},{"p":"Penn94","x":0.7375,"y":0.8295},{"p":"Penn94","x":0.7625,"y":0.8285},{"p":"Penn94","x":0.7875,"y":0.8305},{"p":"Penn94","x":0.8125,"y":0.8290},{"p":"Penn94","x":0.8375,"y":0.8320},{"p":"Penn94","x":0.8625,"y":0.8310},{"p":"Penn94","x":0.8875,"y":0.8335},{"p":"Penn94","x":0.9125,"y":0.8330},{"p":"Penn94","x":0.9375,"y":0.8345},{"p":"Penn94","x":0.9625,"y":0.8330},{"p":"Penn94","x":0.9875,"y":0.8380},
{"p":"Flickr","x":0,"y":0.5305},{"p":"Flickr","x":0.025,"y":0.5312},{"p":"Flickr","x":0.05,"y":0.5318},{"p":"Flickr","x":0.075,"y":0.5325},{"p":"Flickr","x":0.1,"y":0.5322},{"p":"Flickr","x":0.125,"y":0.5335},{"p":"Flickr","x":0.15,"y":0.5340},{"p":"Flickr","x":0.175,"y":0.5352},{"p":"Flickr","x":0.2,"y":0.5360},{"p":"Flickr","x":0.225,"y":0.5358},{"p":"Flickr","x":0.25,"y":0.5372},{"p":"Flickr","x":0.275,"y":0.5380},{"p":"Flickr","x":0.3,"y":0.5375},{"p":"Flickr","x":0.325,"y":0.5390},{"p":"Flickr","x":0.35,"y":0.5398},{"p":"Flickr","x":0.375,"y":0.5405},{"p":"Flickr","x":0.4,"y":0.5400},{"p":"Flickr","x":0.425,"y":0.5412},{"p":"Flickr","x":0.45,"y":0.5418},{"p":"Flickr","x":0.475,"y":0.5425},{"p":"Flickr","x":0.5,"y":0.5420},{"p":"Flickr","x":0.525,"y":0.5432},{"p":"Flickr","x":0.55,"y":0.5440},{"p":"Flickr","x":0.575,"y":0.5450},{"p":"Flickr","x":0.6,"y":0.5455},{"p":"Flickr","x":0.625,"y":0.5448},{"p":"Flickr","x":0.65,"y":0.5470},{"p":"Flickr","x":0.675,"y":0.5478},{"p":"Flickr","x":0.7,"y":0.5485},{"p":"Flickr","x":0.725,"y":0.5480},{"p":"Flickr","x":0.75,"y":0.5498},{"p":"Flickr","x":0.775,"y":0.5505},{"p":"Flickr","x":0.8,"y":0.5500},{"p":"Flickr","x":0.825,"y":0.5515},{"p":"Flickr","x":0.85,"y":0.5520},{"p":"Flickr","x":0.875,"y":0.5510},{"p":"Flickr","x":0.9,"y":0.5525},{"p":"Flickr","x":0.925,"y":0.5505},{"p":"Flickr","x":0.95,"y":0.5495},{"p":"Flickr","x":0.975,"y":0.5510},{"p":"Flickr","x":1,"y":0.5500},
{"p":"Flickr","x":0.0125,"y":0.5308},{"p":"Flickr","x":0.0375,"y":0.5315},{"p":"Flickr","x":0.0625,"y":0.5320},{"p":"Flickr","x":0.0875,"y":0.5330},{"p":"Flickr","x":0.1125,"y":0.5330},{"p":"Flickr","x":0.1375,"y":0.5338},{"p":"Flickr","x":0.1625,"y":0.5348},{"p":"Flickr","x":0.1875,"y":0.5355},{"p":"Flickr","x":0.2125,"y":0.5352},{"p":"Flickr","x":0.2375,"y":0.5365},{"p":"Flickr","x":0.2625,"y":0.5368},{"p":"Flickr","x":0.2875,"y":0.5378},{"p":"Flickr","x":0.3125,"y":0.5385},{"p":"Flickr","x":0.3375,"y":0.5392},{"p":"Flickr","x":0.3625,"y":0.5395},{"p":"Flickr","x":0.3875,"y":0.5402},{"p":"Flickr","x":0.4125,"y":0.5408},{"p":"Flickr","x":0.4375,"y":0.5415},{"p":"Flickr","x":0.4625,"y":0.5422},{"p":"Flickr","x":0.4875,"y":0.5420},{"p":"Flickr","x":0.5125,"y":0.5428},{"p":"Flickr","x":0.5375,"y":0.5438},{"p":"Flickr","x":0.5625,"y":0.5445},{"p":"Flickr","x":0.5875,"y":0.5452},{"p":"Flickr","x":0.6125,"y":0.5460},{"p":"Flickr","x":0.6375,"y":0.5462},{"p":"Flickr","x":0.6625,"y":0.5468},{"p":"Flickr","x":0.6875,"y":0.5482},{"p":"Flickr","x":0.7125,"y":0.5490},{"p":"Flickr","x":0.7375,"y":0.5492},{"p":"Flickr","x":0.7625,"y":0.5500},{"p":"Flickr","x":0.7875,"y":0.5498},{"p":"Flickr","x":0.8125,"y":0.5510},{"p":"Flickr","x":0.8375,"y":0.5512},{"p":"Flickr","x":0.8625,"y":0.5518},{"p":"Flickr","x":0.8875,"y":0.5520},{"p":"Flickr","x":0.9125,"y":0.5515},{"p":"Flickr","x":0.9375,"y":0.5500},{"p":"Flickr","x":0.9625,"y":0.5505},{"p":"Flickr","x":0.9875,"y":0.5520},
{"p":"ArXiv-Year","x":0,"y":0.4262},{"p":"ArXiv-Year","x":0.025,"y":0.4268},{"p":"ArXiv-Year","x":0.05,"y":0.4265},{"p":"ArXiv-Year","x":0.075,"y":0.4280},{"p":"ArXiv-Year","x":0.1,"y":0.4290},{"p":"ArXiv-Year","x":0.125,"y":0.4298},{"p":"ArXiv-Year","x":0.15,"y":0.4308},{"p":"ArXiv-Year","x":0.175,"y":0.4318},{"p":"ArXiv-Year","x":0.2,"y":0.4325},{"p":"ArXiv-Year","x":0.225,"y":0.4335},{"p":"ArXiv-Year","x":0.25,"y":0.4346},{"p":"ArXiv-Year","x":0.275,"y":0.4352},{"p":"ArXiv-Year","x":0.3,"y":0.4362},{"p":"ArXiv-Year","x":0.325,"y":0.4372},{"p":"ArXiv-Year","x":0.35,"y":0.4380},{"p":"ArXiv-Year","x":0.375,"y":0.4390},{"p":"ArXiv-Year","x":0.4,"y":0.4398},{"p":"ArXiv-Year","x":0.425,"y":0.4410},{"p":"ArXiv-Year","x":0.45,"y":0.4418},{"p":"ArXiv-Year","x":0.475,"y":0.4425},{"p":"ArXiv-Year","x":0.5,"y":0.4436},{"p":"ArXiv-Year","x":0.525,"y":0.4444},{"p":"ArXiv-Year","x":0.55,"y":0.4452},{"p":"ArXiv-Year","x":0.575,"y":0.4462},{"p":"ArXiv-Year","x":0.6,"y":0.4470},{"p":"ArXiv-Year","x":0.625,"y":0.4480},{"p":"ArXiv-Year","x":0.65,"y":0.4488},{"p":"ArXiv-Year","x":0.675,"y":0.4498},{"p":"ArXiv-Year","x":0.7,"y":0.4506},{"p":"ArXiv-Year","x":0.725,"y":0.4516},{"p":"ArXiv-Year","x":0.75,"y":0.4524},{"p":"ArXiv-Year","x":0.775,"y":0.4534},{"p":"ArXiv-Year","x":0.8,"y":0.4542},{"p":"ArXiv-Year","x":0.825,"y":0.4552},{"p":"ArXiv-Year","x":0.85,"y":0.4560},{"p":"ArXiv-Year","x":0.875,"y":0.4570},{"p":"ArXiv-Year","x":0.9,"y":0.4578},{"p":"ArXiv-Year","x":0.925,"y":0.4590},{"p":"ArXiv-Year","x":0.95,"y":0.4598},{"p":"ArXiv-Year","x":0.975,"y":0.4612},{"p":"ArXiv-Year","x":1,"y":0.4640},
{"p":"ArXiv-Year","x":0.0125,"y":0.4265},{"p":"ArXiv-Year","x":0.0375,"y":0.4262},{"p":"ArXiv-Year","x":0.0625,"y":0.4275},{"p":"ArXiv-Year","x":0.0875,"y":0.4285},{"p":"ArXiv-Year","x":0.1125,"y":0.4294},{"p":"ArXiv-Year","x":0.1375,"y":0.4302},{"p":"ArXiv-Year","x":0.1625,"y":0.4312},{"p":"ArXiv-Year","x":0.1875,"y":0.4320},{"p":"ArXiv-Year","x":0.2125,"y":0.4330},{"p":"ArXiv-Year","x":0.2375,"y":0.4340},{"p":"ArXiv-Year","x":0.2625,"y":0.4348},{"p":"ArXiv-Year","x":0.2875,"y":0.4358},{"p":"ArXiv-Year","x":0.3125,"y":0.4366},{"p":"ArXiv-Year","x":0.3375,"y":0.4376},{"p":"ArXiv-Year","x":0.3625,"y":0.4385},{"p":"ArXiv-Year","x":0.3875,"y":0.4394},{"p":"ArXiv-Year","x":0.4125,"y":0.4405},{"p":"ArXiv-Year","x":0.4375,"y":0.4412},{"p":"ArXiv-Year","x":0.4625,"y":0.4422},{"p":"ArXiv-Year","x":0.4875,"y":0.4430},{"p":"ArXiv-Year","x":0.5125,"y":0.4440},{"p":"ArXiv-Year","x":0.5375,"y":0.4448},{"p":"ArXiv-Year","x":0.5625,"y":0.4458},{"p":"ArXiv-Year","x":0.5875,"y":0.4466},{"p":"ArXiv-Year","x":0.6125,"y":0.4474},{"p":"ArXiv-Year","x":0.6375,"y":0.4484},{"p":"ArXiv-Year","x":0.6625,"y":0.4492},{"p":"ArXiv-Year","x":0.6875,"y":0.4502},{"p":"ArXiv-Year","x":0.7125,"y":0.4512},{"p":"ArXiv-Year","x":0.7375,"y":0.4520},{"p":"ArXiv-Year","x":0.7625,"y":0.4530},{"p":"ArXiv-Year","x":0.7875,"y":0.4538},{"p":"ArXiv-Year","x":0.8125,"y":0.4548},{"p":"ArXiv-Year","x":0.8375,"y":0.4556},{"p":"ArXiv-Year","x":0.8625,"y":0.4566},{"p":"ArXiv-Year","x":0.8875,"y":0.4574},{"p":"ArXiv-Year","x":0.9125,"y":0.4584},{"p":"ArXiv-Year","x":0.9375,"y":0.4594},{"p":"ArXiv-Year","x":0.9625,"y":0.4604},{"p":"ArXiv-Year","x":0.9875,"y":0.4625},
{"k":"fit","p":"CML","x":0,"y":0.4139},{"k":"fit","p":"CML","x":1,"y":0.4222},
{"k":"fit","p":"SQR","x":0,"y":0.3940},{"k":"fit","p":"SQR","x":1,"y":0.4022},
{"k":"fit","p":"Actor","x":0,"y":0.3572},{"k":"fit","p":"Actor","x":1,"y":0.3568},
{"k":"fit","p":"Texas","x":0,"y":0.7988},{"k":"fit","p":"Texas","x":1,"y":0.8003},
{"k":"fit","p":"Cornell","x":0,"y":0.6937},{"k":"fit","p":"Cornell","x":1,"y":0.7119},
{"k":"fit","p":"Wisconsin","x":0,"y":0.7822},{"k":"fit","p":"Wisconsin","x":1,"y":0.8028},
{"k":"fit","p":"RM-Emp","x":0,"y":0.7863},{"k":"fit","p":"RM-Emp","x":1,"y":0.7473},
{"k":"fit","p":"AMZ-Rts","x":0,"y":0.4652},{"k":"fit","p":"AMZ-Rts","x":1,"y":0.4804},
{"k":"fit","p":"Tolokers","x":0,"y":0.7918},{"k":"fit","p":"Tolokers","x":1,"y":0.7935},
{"k":"fit","p":"Penn94","x":0,"y":0.8072},{"k":"fit","p":"Penn94","x":1,"y":0.8344},
{"k":"fit","p":"Flickr","x":0,"y":0.5300},{"k":"fit","p":"Flickr","x":1,"y":0.5541},
{"k":"fit","p":"ArXiv-Year","x":0,"y":0.4254},{"k":"fit","p":"ArXiv-Year","x":1,"y":0.4615},
{"k":"arr","p":"CML","x":0.98,"y":0.4219,"y2":0.4054},
{"k":"arr","p":"SQR","x":0.99,"y":0.3998,"y2":0.3937},
{"k":"arr","p":"Cornell","x":1,"y":0.7090,"y2":0.6946},
{"k":"arr","p":"Wisconsin","x":0.99,"y":0.8013,"y2":0.7842},
{"k":"arr","p":"RM-Emp","x":0.985,"y":0.7865,"y2":0.7499},
{"k":"arr","p":"AMZ-Rts","x":0.97,"y":0.4785,"y2":0.4655},
{"k":"arr","p":"Penn94","x":1,"y":0.8336,"y2":0.8080},
{"k":"arr","p":"Flickr","x":1,"y":0.5523,"y2":0.5311},
{"k":"arr","p":"ArXiv-Year","x":0.99,"y":0.4592,"y2":0.4263},
{"k":"lab","p":"CML","x":0.626,"y":0.3800,"t":"+1"},
{"k":"lab","p":"SQR","x":0.60,"y":0.3820,"t":"+1"},
{"k":"lab","p":"Actor","x":0.64,"y":0.3498,"t":"±0"},
{"k":"lab","p":"Texas","x":0.626,"y":0.7814,"t":"±0"},
{"k":"lab","p":"Cornell","x":0.60,"y":0.6879,"t":"+2"},
{"k":"lab","p":"Wisconsin","x":0.60,"y":0.7757,"t":"+2"},
{"k":"lab","p":"RM-Emp","x":0.33,"y":0.7442,"t":"-4"},
{"k":"lab","p":"AMZ-Rts","x":0.58,"y":0.4617,"t":"+1"},
{"k":"lab","p":"Tolokers","x":0.64,"y":0.7853,"t":"±0"},
{"k":"lab","p":"Penn94","x":0.59,"y":0.7960,"t":"+3"},
{"k":"lab","p":"Flickr","x":0.62,"y":0.5283,"t":"+2"},
{"k":"lab","p":"ArXiv-Year","x":0.60,"y":0.4239,"t":"+4"}
    ]},
    "transform": [{"lookup": "p", "from": {"data": {"values": [
      {"p":"CML","c":"Increase"},{"p":"SQR","c":"Increase"},{"p":"Actor","c":"No Change"},{"p":"Texas","c":"No Change"},{"p":"Cornell","c":"Increase"},{"p":"Wisconsin","c":"Increase"},
      {"p":"RM-Emp","c":"Decrease"},{"p":"AMZ-Rts","c":"Increase"},{"p":"Tolokers","c":"No Change"},{"p":"Penn94","c":"Increase"},{"p":"Flickr","c":"Increase"},{"p":"ArXiv-Year","c":"Increase"}
    ]}, "key": "p", "fields": ["c"]}}],
    "facet": {"field": "p", "type": "nominal",
      "sort": ["CML","SQR","Actor","Texas","Cornell","Wisconsin","RM-Emp","AMZ-Rts","Tolokers","Penn94","Flickr","ArXiv-Year"],
      "header": {"title": null, "labelFont": "Open Sans", "labelFontSize": 22, "labelFontWeight": "bold", "labelColor": "black", "labelPadding": -3}},
    "columns": 6,
    "spacing": {"row": 51, "column": 34},
    "bounds": "flush",
    "title": {"text": "Shuffled Node Ratio", "orient": "bottom", "anchor": "middle", "fontSize": 27, "font": "Open Sans", "fontWeight": "bold", "color": "black", "offset": 4},
    "resolve": {"scale": {"x": "independent", "y": "independent"}},
    "spec": {
      "width": 97, "height": 96,
      "encoding": {
        "x": {"field": "x", "type": "quantitative", "scale": {"domain": [-0.03, 1.03], "nice": false, "zero": false}, "axis": {"values": [0, 0.5, 1], "format": ".1~f", "grid": true}},
        "y": {"field": "y", "type": "quantitative", "scale": {"zero": false, "nice": false, "padding": 5},
              "axis": {"tickCount": 2.6, "labelExpr": "abs(datum.value*100 - round(datum.value*100)) > 0.01 ? '' : format(datum.value, '.2f')",
                       "gridOpacity": {"condition": {"test": "abs(datum.value*100 - round(datum.value*100)) > 0.01", "value": 0}, "value": 1}}}
      },
      "layer": [
        {"transform": [{"filter": "!isValid(datum.k)"}],
         "mark": {"type": "circle", "size": 14, "opacity": 0.55},
         "encoding": {"color": {"field": "c", "type": "nominal",
            "scale": {"domain": ["Increase", "No Change", "Decrease"], "range": ["#3c5890", "#f2987c", "#009e82"]},
            "legend": {"title": "Accuracy:", "orient": "none", "legendX": 68, "legendY": -26, "direction": "horizontal",
              "titleOrient": "left", "titleFont": "Open Sans", "titleFontSize": 22, "titleFontWeight": "bold", "titleColor": "black", "titlePadding": 120,
              "labelFont": "Open Sans", "labelFontSize": 22, "labelFontWeight": "bold", "labelColor": "black", "labelLimit": 0,
              "symbolType": "M-1.25,-0.5H1.25V0.5H-1.25Z", "symbolSize": 720, "symbolOpacity": 1, "symbolStrokeWidth": 0,
              "labelAlign": "right", "labelOffset": -37, "columnPadding": 28, "gridAlign": "all"}}}},
        {"transform": [{"filter": "datum.k == 'fit'"}],
         "mark": {"type": "line", "strokeWidth": 2},
         "encoding": {"color": {"field": "c", "type": "nominal", "scale": {"domain": ["Increase", "No Change", "Decrease"], "range": ["#3c5890", "#f2987c", "#009e82"]}, "legend": null}}},
        {"transform": [{"filter": "datum.k == 'arr'"}],
         "mark": {"type": "rule", "color": "#858585", "strokeWidth": 3.5},
         "encoding": {"y2": {"field": "y2"}}},
        {"transform": [{"filter": "datum.k == 'arr'"}],
         "mark": {"type": "point", "shape": "triangle-up", "filled": true, "color": "#858585", "opacity": 1, "size": 95, "yOffset": 3},
         "encoding": {}},
        {"transform": [{"filter": "datum.k == 'arr'"}],
         "mark": {"type": "point", "shape": "triangle-down", "filled": true, "color": "#858585", "opacity": 1, "size": 95, "yOffset": -3},
         "encoding": {"y": {"field": "y2", "type": "quantitative"}}},
        {"transform": [{"filter": "datum.k == 'lab'"}],
         "mark": {"type": "text", "align": "right", "baseline": "alphabetic", "font": "Open Sans", "fontSize": 27, "fontWeight": "bold", "color": "#858585"},
         "encoding": {"text": {"field": "t"}}},
        {"transform": [{"filter": "datum.k == 'lab'"}],
         "mark": {"type": "text", "align": "left", "baseline": "alphabetic", "font": "Open Sans", "fontSize": 20, "fontWeight": "bold", "color": "#858585"},
         "encoding": {"text": {"value": "%p"}}}
      ]
    }
  }
]
}
